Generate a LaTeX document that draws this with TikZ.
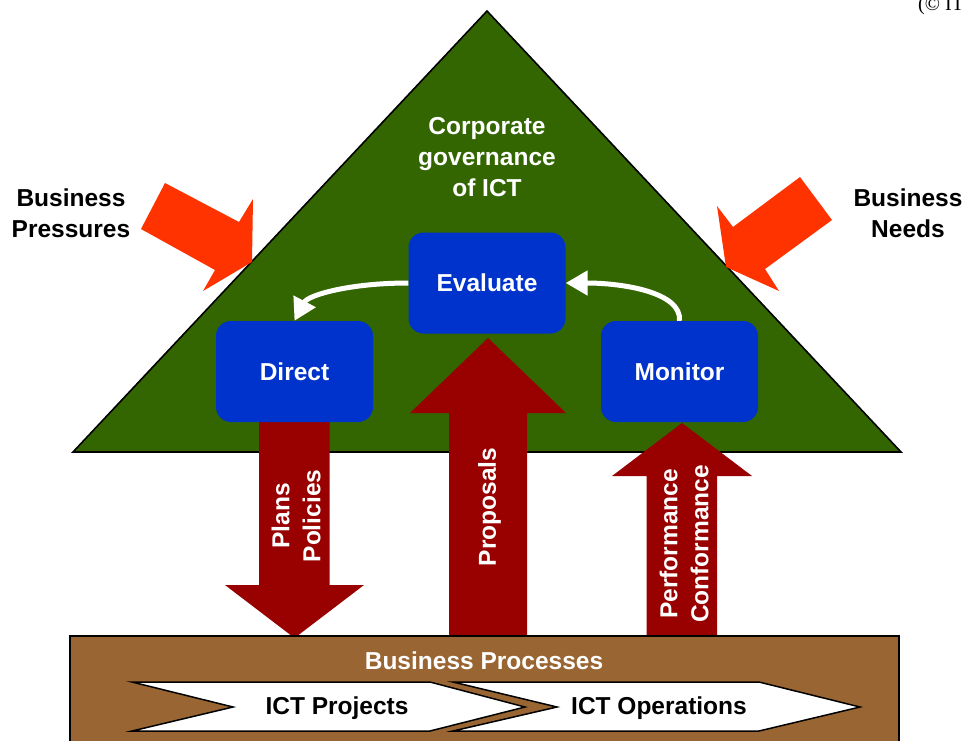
\documentclass[tikz,border=0pt]{standalone}
\usepackage{fontspec}
\setmainfont{Liberation Sans}
\newfontfamily\serifcap{Liberation Serif}
\usetikzlibrary{arrows.meta}
\definecolor{trigreen}{HTML}{336600}
\definecolor{boxblue}{HTML}{0033CC}
\definecolor{hotorange}{HTML}{FF3300}
\definecolor{darkred}{HTML}{990000}
\definecolor{procbrown}{HTML}{996633}
\begin{document}
\begin{tikzpicture}[x=1pt,y=-1pt,
  txt/.style={font=\fontsize{24.5}{31}\selectfont\bfseries, align=center, inner sep=0pt},
  govbox/.style={fill=boxblue, rounded corners=15pt, minimum width=157pt, minimum height=101pt, text=white, txt},
  bigarrow/.style={fill=darkred},
  pressure/.style={fill=hotorange},
  loop/.style={draw=white, line width=5pt, -{Triangle[length=22pt,width=24pt]}},
  chev/.style={fill=white, draw=black, line width=1.5pt}
]
\useasboundingbox (0,0) rectangle (966,740);
\fill[white] (0,0) rectangle (966,740);

% triangle
\draw[fill=trigreen, draw=black, line width=1.6pt] (487,11) -- (901,452) -- (73,452) -- cycle;
\node[txt, text=white] (gov) at (487,157.5) {Corporate\\governance\\of ICT};

% pressure arrows
\fill[pressure] (165,183) -- (239,222) -- (253,199) -- (252,262) -- (203,291) -- (215,270) -- (141,229) -- cycle;
\fill[pressure] (800,177) -- (733,227) -- (717,206) -- (726,267) -- (779,291) -- (765,269) -- (832,220) -- cycle;
\node[txt] (press) at (71,213) {Business\\Pressures};
\node[txt] (needs) at (908,213) {Business\\Needs};

% red arrows
\fill[bigarrow] (259,410) -- (329.5,410) -- (329.5,585) -- (364,585) -- (294.5,638) -- (225,585) -- (259,585) -- cycle;
\fill[bigarrow] (449,637) -- (449,413) -- (410,413) -- (488,338) -- (566,413) -- (527,413) -- (527,637) -- cycle;
\fill[bigarrow] (646.5,637) -- (646.5,476) -- (612,476) -- (682,423) -- (752,476) -- (717,476) -- (717,637) -- cycle;
\node[txt, text=white, rotate=90] (plans) at (296,516) {Plans\\Policies};
\node[txt, text=white, rotate=90] (prop) at (489.5,507) {Proposals};
\node[txt, text=white, rotate=90] (perf) at (684,544) {Performance\\Conformance};

% boxes
\node[govbox] (ev) at (487,283) {Evaluate};
\node[govbox] (dir) at (294.5,371.5) {Direct};
\node[govbox] (mon) at (679.5,371.5) {Monitor};

\draw[loop] (ev.west) .. controls (350,283) and (308,295) .. (dir.north);
\draw[loop] (mon.north) .. controls (682,292) and (622,283) .. (ev.east);

% business processes
\draw[fill=procbrown, draw=black, line width=1.5pt] (70,636) rectangle (899,760);
\node[txt, text=white] (bp) at (484,661) {Business Processes};
\draw[chev] (132,682) -- (430,682) -- (525,707) -- (430,731) -- (132,731) -- (233,707) -- cycle;
\draw[chev] (453,682) -- (759,682) -- (860,707) -- (759,731) -- (453,731) -- (557,707) -- cycle;
\node[txt] (proj) at (337,708.5) {ICT Projects};
\node[txt] (ops) at (659,708.5) {ICT Operations};

% source note (cut off at the top edge, as in the reference)
\node[anchor=base west, inner sep=0pt, font=\serifcap\fontsize{20}{20}\selectfont] (src) at (918,10) {(© IT};
\end{tikzpicture}
\end{document}
